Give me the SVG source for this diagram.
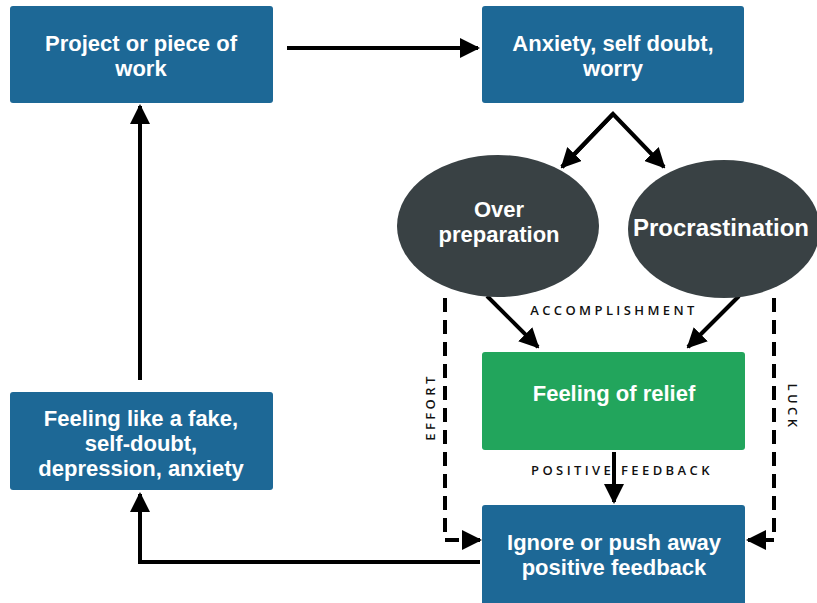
<svg xmlns="http://www.w3.org/2000/svg" width="817" height="603" viewBox="0 0 817 603">
<defs>
<style>
.box{fill:#1d6896;}
.ell{fill:#394144;}
.green{fill:#22a55c;}
.t{font-family:"Liberation Sans",Arial,sans-serif;font-weight:bold;font-size:22px;fill:#ffffff;text-anchor:middle;}
.lbl{font-family:"Open Sans","Liberation Sans",sans-serif;font-size:13px;font-weight:600;fill:#111;text-anchor:middle;letter-spacing:3.4px;}
.ln{stroke:#000;stroke-width:4;fill:none;}
.dash{stroke:#000;stroke-width:4;fill:none;stroke-dasharray:14,8;}
</style>
<marker id="ah" viewBox="0 0 10 10" refX="9" refY="5" markerWidth="5" markerHeight="5" markerUnits="strokeWidth" orient="auto">
<path d="M0,0 L10,5 L0,10 z" fill="#000"/>
</marker>
</defs>
<rect width="817" height="603" fill="#fff"/>
<g id="connectors">
<line class="ln" x1="287" y1="48" x2="478" y2="48" marker-end="url(#ah)"/>
<polyline class="ln" points="562,167 613,114 664,167" marker-end="url(#ah)"/>
<line class="ln" x1="613" y1="114" x2="562" y2="167" marker-end="url(#ah)"/>
<line class="ln" x1="487" y1="296" x2="538" y2="347" marker-end="url(#ah)"/>
<line class="ln" x1="739" y1="296" x2="688" y2="347" marker-end="url(#ah)"/>
<line class="ln" x1="614" y1="452" x2="614" y2="502" marker-end="url(#ah)"/>
<polyline class="dash" points="445,298 445,540 462,540"/>
<line class="ln" x1="462" y1="540" x2="480" y2="540" marker-end="url(#ah)"/>
<polyline class="dash" points="774,298 774,540 764,540"/>
<line class="ln" x1="766" y1="540" x2="748" y2="540" marker-end="url(#ah)"/>
<polyline class="ln" points="480,562 140,562 140,494" marker-end="url(#ah)"/>
<line class="ln" x1="140" y1="380" x2="140" y2="106" marker-end="url(#ah)"/>
<text class="lbl" x="614" y="315">ACCOMPLISHMENT</text>
<text class="lbl" x="622" y="475">POSITIVE FEEDBACK</text>
<text class="lbl" transform="translate(435,407) rotate(-90)">EFFORT</text>
<text class="lbl" transform="translate(788,407) rotate(90)">LUCK</text>
</g>
<g id="project">
<rect class="box" x="10" y="6" width="263" height="97" rx="3"/>
<text class="t" x="141" y="51">Project or piece of<tspan x="141" dy="25">work</tspan></text>
</g>
<g id="anxiety">
<rect class="box" x="482" y="6" width="262" height="97" rx="3"/>
<text class="t" x="613" y="51">Anxiety, self doubt,<tspan x="613" dy="25">worry</tspan></text>
</g>
<g id="overprep">
<ellipse class="ell" cx="498" cy="226" rx="101" ry="71"/>
<text class="t" x="499" y="217">Over<tspan x="499" dy="25">preparation</tspan></text>
</g>
<g id="procrastination">
<ellipse class="ell" cx="724" cy="229" rx="96" ry="69"/>
<text class="t" x="721" y="236" style="font-size:24px">Procrastination</text>
</g>
<g id="relief">
<rect class="green" x="482" y="352" width="263" height="98" rx="3"/>
<text class="t" x="614" y="401">Feeling of relief</text>
</g>
<g id="ignore">
<rect class="box" x="482" y="505" width="263" height="100" rx="3"/>
<text class="t" x="614" y="550">Ignore or push away<tspan x="614" dy="25">positive feedback</tspan></text>
</g>
<g id="fake">
<rect class="box" x="10" y="392" width="263" height="98" rx="3"/>
<text class="t" x="141" y="426">Feeling like a fake,<tspan x="141" dy="25">self-doubt,</tspan><tspan x="141" dy="25">depression, anxiety</tspan></text>
</g>
</svg>
